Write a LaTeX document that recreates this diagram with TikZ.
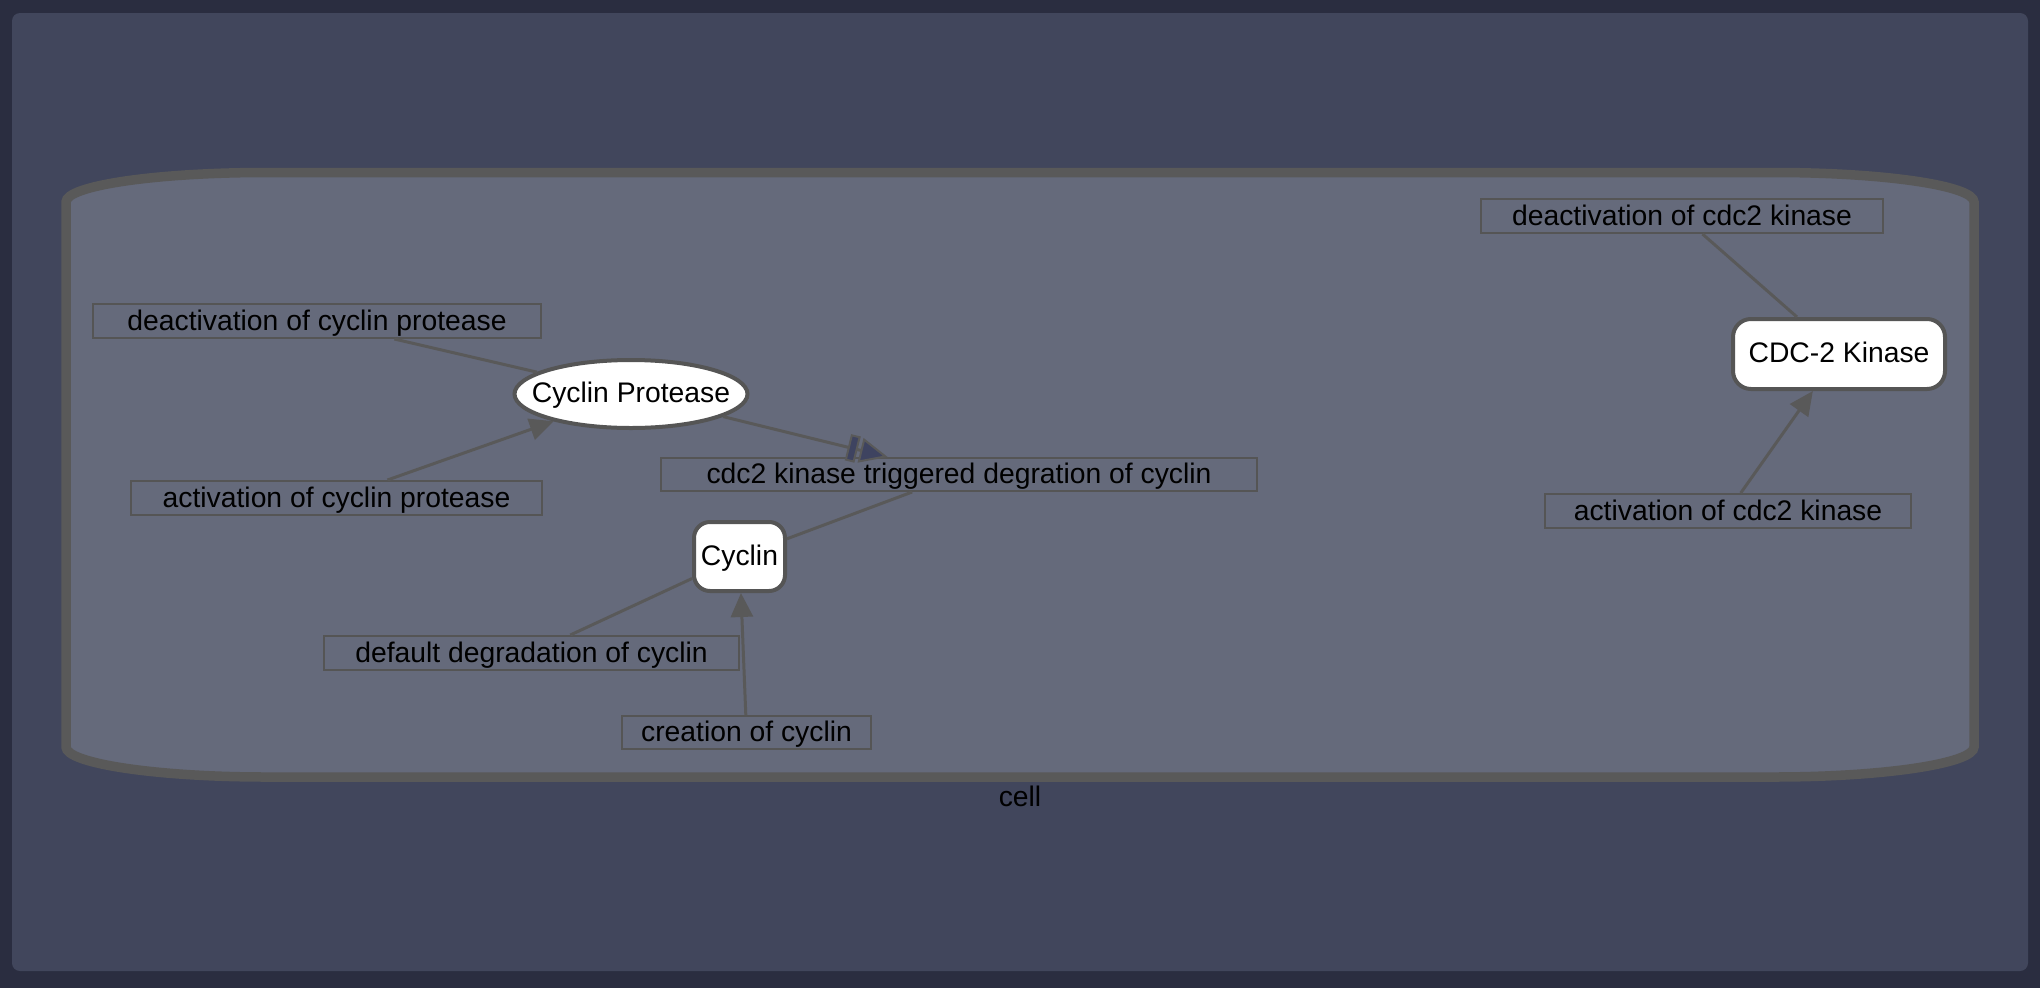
\documentclass[tikz,border=0pt]{standalone}
\usepackage{fontspec}
\setmainfont{Liberation Sans}
\usetikzlibrary{shapes.geometric,arrows.meta}
\definecolor{outerbg}{HTML}{2A2D40}
\definecolor{panelbg}{HTML}{41465C}
\definecolor{cellfill}{HTML}{656A7B}
\definecolor{cellline}{HTML}{595959}
\definecolor{boxline}{HTML}{555555}
\definecolor{nodeline}{HTML}{555555}
\definecolor{edgecol}{HTML}{595959}
\definecolor{tipfill}{HTML}{3E4360}
\begin{document}
\begin{tikzpicture}[x=1pt,y=-1pt,
  every node/.style={font=\fontsize{28.3}{34}\selectfont, text=black},
  rxnbox/.style={draw=boxline, line width=2pt, inner sep=0pt, text height=22pt, text depth=4pt},
  species/.style={draw=nodeline, fill=white, line width=4pt, inner sep=0pt, text height=21.5pt, text depth=4.5pt},
  edge/.style={draw=edgecol, line width=3pt},
  prod/.style={edge, -{Triangle[length=24pt,width=22pt]}},
  modul/.style={edge, -{Square[length=10pt,width=27pt,fill=tipfill,line width=2pt,sep=3pt] Triangle[length=28pt,width=25pt,fill=tipfill,line width=2pt]}}
]
\useasboundingbox (0,0) rectangle (2040,988);
\fill[outerbg] (0,0) rectangle (2040,988);
\fill[panelbg, rounded corners=8pt] (12,13) rectangle (2028,971);
% cell compartment
\draw[fill=cellfill, draw=cellline, line width=9.5pt]
  (266,172.5) -- (1774,172.5)
  .. controls (1884.5,172.5) and (1974,185.7) .. (1974,202)
  -- (1974,747)
  .. controls (1974,763.3) and (1884.5,777) .. (1774,777)
  -- (266,777)
  .. controls (155.5,777) and (66,763.3) .. (66,747)
  -- (66,202)
  .. controls (66,185.7) and (155.5,172.5) .. (266,172.5) -- cycle;
\node[text height=20pt, text depth=6pt] (celllbl) at (1020,799) {cell};

% reactions
\node[rxnbox, minimum width=448pt, minimum height=34pt] (dcp) at (317,321) {deactivation of cyclin protease};
\node[rxnbox, minimum width=411pt, minimum height=34pt] (acp) at (336.5,498) {activation of cyclin protease};
\node[rxnbox, minimum width=596pt, minimum height=33pt] (rxn) at (959,474.5) {cdc2 kinase triggered degration of cyclin};
\node[rxnbox, minimum width=415pt, minimum height=34pt] (ddc) at (531.5,653) {default degradation of cyclin};
\node[rxnbox, minimum width=249pt, minimum height=33pt] (cc) at (746.5,732.5) {creation of cyclin};
\node[rxnbox, minimum width=402pt, minimum height=34pt] (dck) at (1682,216) {deactivation of cdc2 kinase};
\node[rxnbox, minimum width=366pt, minimum height=34pt] (ack) at (1728,511) {activation of cdc2 kinase};

% species
\node[species, ellipse, minimum width=233pt, minimum height=68pt] (cp) at (631,394) {\makebox[0pt]{Cyclin Protease}};
\node[species, rounded corners=16pt, minimum width=91pt, minimum height=69pt] (cyc) at (739.5,556.5) {Cyclin};
\node[species, rounded corners=18pt, minimum width=212pt, minimum height=70pt] (cdk) at (1839,354) {CDC-2 Kinase};

% connectors
\draw[edge] (dcp) -- (cp);
\draw[prod] (acp) -- (cp);
\draw[modul] (cp) -- (rxn);
\draw[edge] (cyc) -- (rxn);
\draw[edge] (ddc) -- (cyc);
\draw[prod] (cc) -- (cyc);
\draw[edge] (dck) -- (cdk);
\draw[prod] (ack) -- (cdk);
\end{tikzpicture}
\end{document}
